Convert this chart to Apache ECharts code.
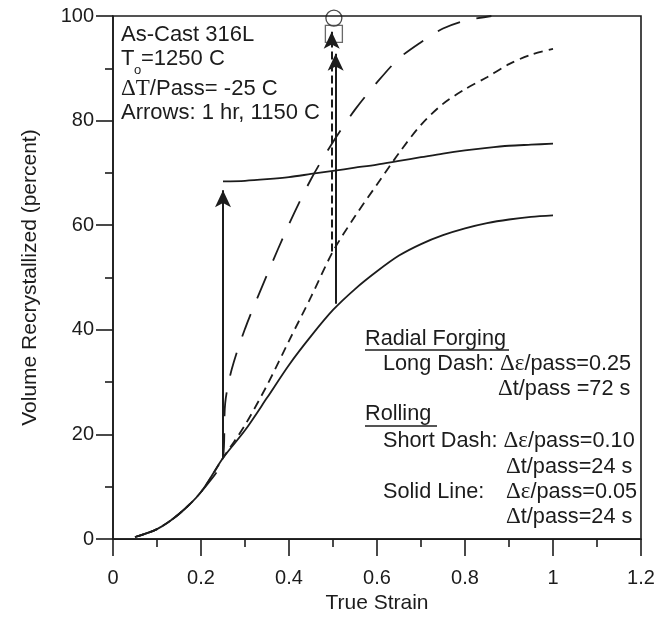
<!DOCTYPE html>
<html>
<head>
<meta charset="utf-8">
<script src="https://cdn.jsdelivr.net/npm/echarts@6/dist/echarts.min.js"></script>
<style>
html,body{margin:0;padding:0;background:#fff;}
#chart{width:672px;height:619px;}
</style>
</head>
<body>
<div id="chart"></div>
<script>
// ---- data ----
var strainMain = [0.05,0.1,0.15,0.2,0.25,0.3,0.35,0.4,0.45,0.5,0.55,0.6,0.65,0.7,0.75,0.8,0.85,0.9,0.95,1.0];
var solidLower = [0.4,1.9,4.8,9.0,15.5,20.8,27.0,33.3,38.8,43.8,47.8,51.2,54.2,56.4,58.1,59.4,60.4,61.1,61.6,61.9];
var shortDash  = [0.4,1.9,4.8,9.0,15.5,21.8,29.4,37.9,46.3,55.0,61.7,67.8,73.8,79.2,83.2,86.0,88.3,90.8,92.6,93.7];

var strainLong = [0.05,0.1,0.15,0.2,0.25,0.255,0.27,0.3,0.35,0.4,0.45,0.5,0.55,0.6,0.65,0.7,0.75,0.8,0.86];
var longDash   = [0.4,1.9,4.8,9.0,15.5,26.0,32.5,40.2,50.5,60.2,68.8,75.9,82.1,87.3,91.9,95.0,97.6,99.1,100.0];

var strainUpper = [0.25,0.3,0.35,0.4,0.45,0.5,0.55,0.6,0.65,0.7,0.75,0.8,0.85,0.9,0.95,1.0];
var solidUpper  = [68.4,68.5,68.8,69.2,69.8,70.4,71.0,71.6,72.3,73.0,73.7,74.3,74.8,75.2,75.4,75.6];

// arrows (1 hr anneal at 1150 C)
var arrowX    = [0.25, 0.506, 0.497];
var arrowFrom = [15.5, 45.0, 55.0];
var arrowTo   = [66.7, 92.8, 97.0];
var arrowDashed = [false, false, true];

// measured points
var circlePt = [0.502, 99.6];
var squarePt = [0.502, 96.6];

var xTicks = [0, 0.2, 0.4, 0.6, 0.8, 1, 1.2];
var xTickLabels = ['0','0.2','0.4','0.6','0.8','1','1.2'];
var yTicks = [0, 20, 40, 60, 80, 100];
var yTickLabels = ['0','20','40','60','80','100'];

function zip(xs, ys){ return xs.map(function(x,i){ return [x, ys[i]]; }); }

var INK = '#1c1c1c';
var FONT = '"Liberation Sans", Arial, Helvetica, sans-serif';
var SERIF = '"Liberation Serif", "Times New Roman", serif';

var arrowLines = arrowX.map(function(x,i){
  return [
    {coord:[x, arrowFrom[i]], symbol:'none'},
    {coord:[x, arrowTo[i]], symbol:'arrow', lineStyle:{type: arrowDashed[i] ? [8,4] : 'solid', color:INK, width:2}}
  ];
});

var chart = echarts.init(document.getElementById('chart'), null, {renderer:'canvas'});

var FS = 22;
function txt(x, y, text, rich, size){
  return {
    type:'text', silent:true, z:10,
    style:{
      x:x, y:y, text:text, rich:rich,
      font: (size||FS) + 'px ' + FONT,
      fill: INK, verticalAlign:'middle', align:'left'
    }
  };
}
var richBase = {
  a:{fontFamily:FONT, fontSize:21.7, color:INK},
  s:{fontFamily:SERIF, fontSize:23, color:INK}
};
var richTop = {
  a:{fontFamily:FONT, fontSize:FS, color:INK},
  s:{fontFamily:SERIF, fontSize:23, color:INK}
};
function uline(x1, x2, y){
  return {type:'line', silent:true, z:10, shape:{x1:x1,y1:y,x2:x2,y2:y}, style:{stroke:INK, lineWidth:1.3}};
}

var option = {
  animation:false,
  backgroundColor:'#fff',
  grid:{left:113, right:31, top:16, bottom:74, show:true, borderColor:INK, borderWidth:1.6, backgroundColor:'transparent'},
  xAxis:{
    type:'value', min:0, max:1.2, interval:0.2,
    name:'True Strain', nameLocation:'middle', nameGap:51,
    nameTextStyle:{fontFamily:FONT, fontSize:21, color:INK},
    axisLine:{show:true, onZero:false, lineStyle:{color:INK, width:1.6}},
    axisTick:{show:true, inside:false, length:17, lineStyle:{color:INK, width:1.6}},
    minorTick:{show:true, splitNumber:2, length:8, lineStyle:{color:INK, width:1.6}},
    splitLine:{show:false},
    axisLabel:{margin:29, fontFamily:FONT, fontSize:20, color:INK,
      formatter:function(v){ var i = xTicks.findIndex(function(t){return Math.abs(t-v)<1e-6;}); return i>=0 ? xTickLabels[i] : ''; }}
  },
  yAxis:{
    type:'value', min:0, max:100, interval:20,
    name:'Volume Recrystallized (percent)', nameLocation:'middle', nameGap:72,
    nameTextStyle:{fontFamily:FONT, fontSize:21, color:INK},
    axisLine:{show:true, onZero:false, lineStyle:{color:INK, width:1.6}},
    axisTick:{show:true, inside:false, length:17, lineStyle:{color:INK, width:1.6}},
    minorTick:{show:true, splitNumber:2, length:8, lineStyle:{color:INK, width:1.6}},
    splitLine:{show:false},
    axisLabel:{margin:19, fontFamily:FONT, fontSize:20, color:INK,
      formatter:function(v){ var i = yTicks.indexOf(v); return i>=0 ? yTickLabels[i] : ''; }}
  },
  series:[
    {type:'line', name:'Solid lower', data:zip(strainMain, solidLower), showSymbol:false, smooth:0.3,
      lineStyle:{color:INK, width:1.8}},
    {type:'line', name:'Short dash', data:zip(strainMain, shortDash), showSymbol:false, smooth:0.3,
      lineStyle:{color:INK, width:1.8, type:[9,6]}},
    {type:'line', name:'Long dash', data:zip(strainLong, longDash), showSymbol:false, smooth:0.3,
      lineStyle:{color:INK, width:1.8, type:[24,17]}},
    {type:'line', name:'Solid upper', data:zip(strainUpper, solidUpper), showSymbol:false, smooth:0.3,
      lineStyle:{color:INK, width:1.8}},
    {type:'scatter', name:'circle', data:[circlePt], symbol:'circle', symbolSize:16, clip:false,
      itemStyle:{color:'rgba(0,0,0,0)', borderColor:INK, borderWidth:1.3}, z:3},
    {type:'scatter', name:'square', data:[squarePt], symbol:'rect', symbolSize:17, clip:false,
      itemStyle:{color:'rgba(0,0,0,0)', borderColor:'#444', borderWidth:1.3}, z:3},
    {type:'line', name:'Arrows', data:[], showSymbol:false, z:6,
      markLine:{silent:true, animation:false, symbol:['none','arrow'], symbolSize:[12,17], precision:4,
        label:{show:false}, lineStyle:{color:INK, width:2, type:'solid'},
        emphasis:{disabled:true},
        data:arrowLines}}
  ],
  graphic:[
    txt(121, 35, 'As-Cast 316L'),
    txt(121, 59, 'T'),
    txt(134, 70, 'o', null, 13),
    txt(141, 59, '=1250 C'),
    txt(121, 89, '{s|ΔT}{a|/Pass= -25 C}', richTop),
    txt(121, 113, 'Arrows: 1 hr, 1150 C'),

    txt(365, 339, 'Radial Forging', null, 21.7),
    uline(365, 509, 350),
    txt(383, 364, '{a|Long Dash: }{s|Δε}{a|/pass=0.25}', richBase),
    txt(498, 389, '{s|Δ}{a|t/pass =72 s}', richBase),
    txt(365, 414, 'Rolling', null, 21.7),
    uline(365, 437, 426),
    txt(383, 441, '{a|Short Dash: }{s|Δε}{a|/pass=0.10}', richBase),
    txt(506, 467, '{s|Δ}{a|t/pass=24 s}', richBase),
    txt(383, 492, 'Solid Line:', null, 21.7),
    txt(506, 492, '{s|Δε}{a|/pass=0.05}', richBase),
    txt(506, 517, '{s|Δ}{a|t/pass=24 s}', richBase)
  ]
};
chart.setOption(option);
</script>
</body>
</html>
